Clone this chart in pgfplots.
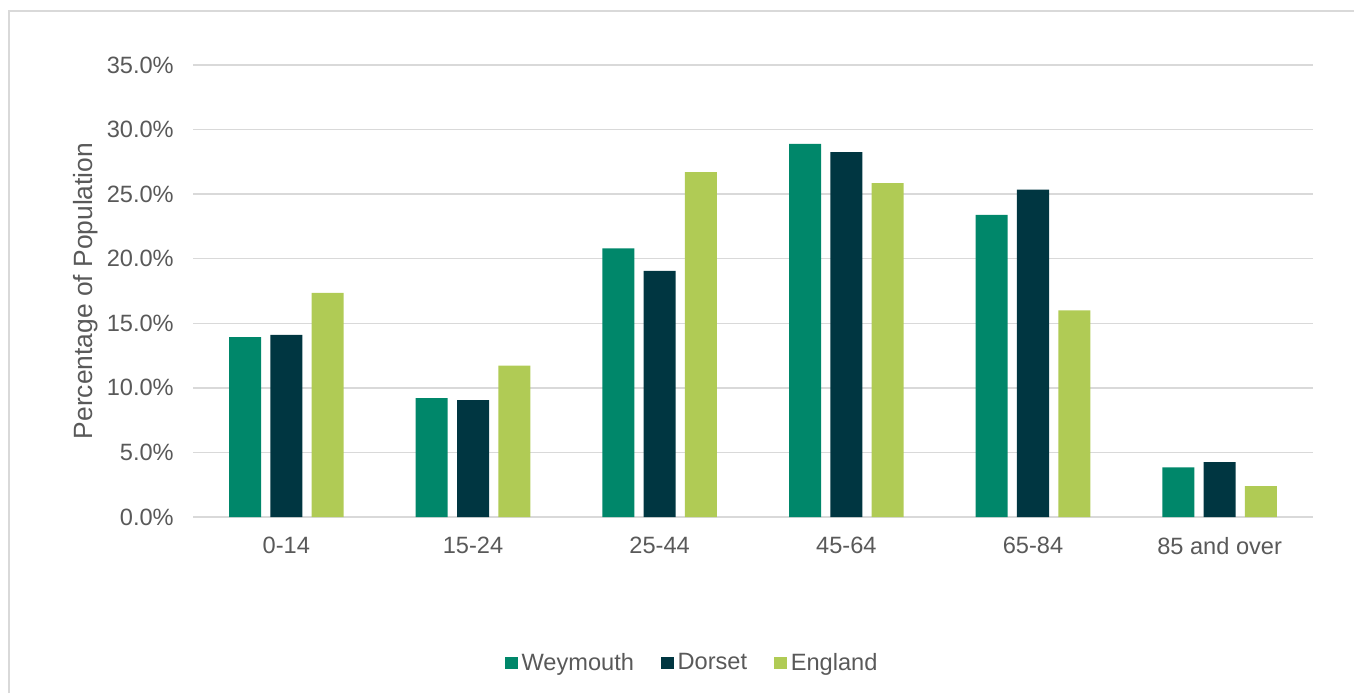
\documentclass[border=0pt]{standalone}
\usepackage{fontspec}
\setmainfont{Liberation Sans}
\usepackage{pgfplots}
\pgfplotsset{compat=1.18}
\definecolor{wey}{RGB}{0,135,106}
\definecolor{dor}{RGB}{0,54,65}
\definecolor{eng}{RGB}{176,203,85}
\definecolor{txt}{RGB}{89,89,89}
\definecolor{grd}{RGB}{217,217,217}
\begin{document}
\begin{tikzpicture}
\useasboundingbox (0,0) rectangle (677pt,346.5pt);
\draw[grd, line width=0.6pt] (4.5pt,0) -- (4.5pt,341pt) -- (677pt,341pt);
\begin{axis}[
  at={(96.5pt,88pt)}, anchor=south west,
  scale only axis, width=560pt, height=226pt,
  xmin=-0.5, xmax=5.5, ymin=0, ymax=35,
  ybar, bar width=16pt,
  axis line style={draw=none},
  major tick length=0pt, tick style={draw=none},
  ymajorgrids, grid style={grd, line width=0.75pt},
  xtick={0,1,2,3,4,5},
  xticklabels={0-14,15-24,25-44,45-64,65-84,85 and over},
  ytick={0,5,10,15,20,25,30,35},
  yticklabels={0.0\%,5.0\%,10.0\%,15.0\%,20.0\%,25.0\%,30.0\%,35.0\%},
  ticklabel style={font=\fontsize{11.8}{14}\selectfont, text=txt},
  yticklabel style={xshift=-6.1pt},
  xticklabel style={yshift=-6.7pt},
  ylabel={Percentage of Population},
  ylabel style={at={(axis description cs:-0.0955,0.5)}, anchor=center, font=\fontsize{13.2}{15}\selectfont, text=txt},
  legend columns=3,
  legend style={at={(axis description cs:0.4466,-0.323)}, anchor=center, draw=none,
    font=\fontsize{11.8}{14}\selectfont, text=txt,
    /tikz/every even column/.append style={column sep=11.5pt},
    nodes={inner xsep=2pt}},
  legend image code/.code={\fill[#1] (0pt,-3.175pt) rectangle (6.35pt,3.175pt);},
]
\addplot[fill=wey, draw=none, bar shift=-20.65pt] coordinates {(0,13.92) (1,9.21) (2,20.8) (3,28.9) (4,23.4) (5,3.85)};
\addplot[fill=dor, draw=none, bar shift=0pt] coordinates {(0,14.1) (1,9.06) (2,19.05) (3,28.25) (4,25.35) (5,4.25)};
\addplot[fill=eng, draw=none, bar shift=20.65pt] coordinates {(0,17.36) (1,11.72) (2,26.7) (3,25.85) (4,16.0) (5,2.4)};
\legend{Weymouth, Dorset, England}
\end{axis}
\end{tikzpicture}
\end{document}
